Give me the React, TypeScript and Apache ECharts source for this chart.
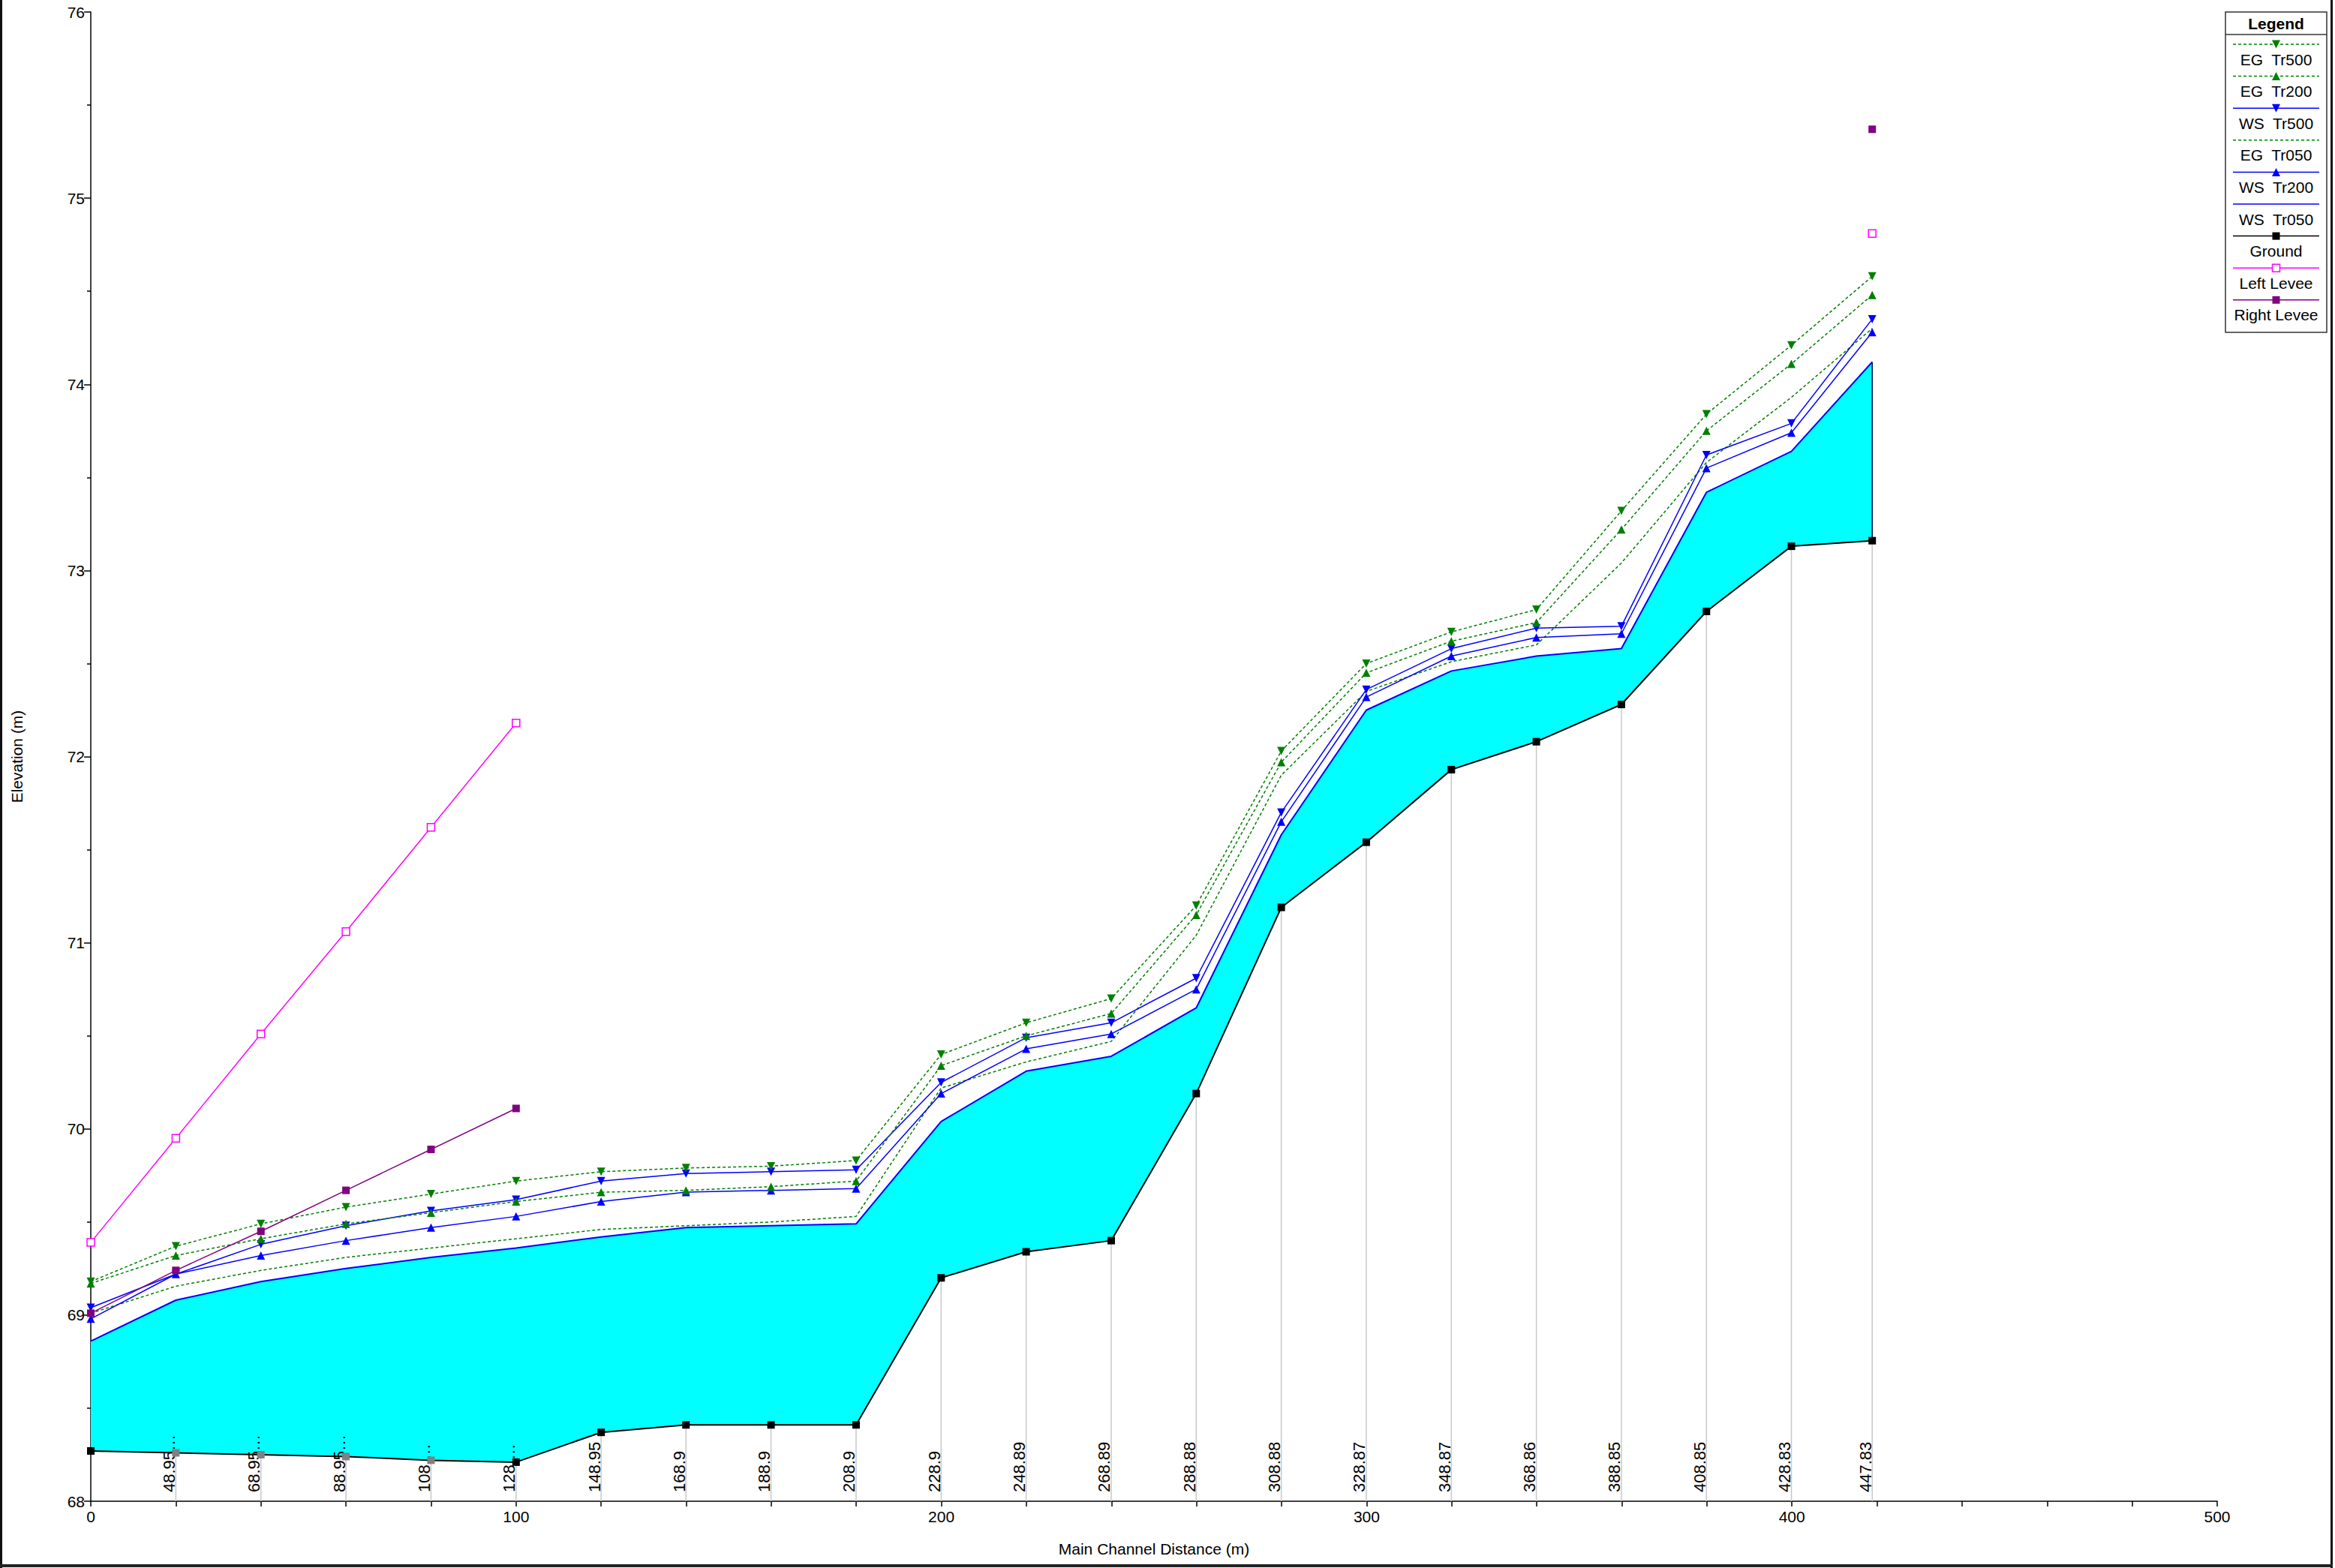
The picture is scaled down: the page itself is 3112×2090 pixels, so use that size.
import React, { useEffect, useRef } from 'react';
import * as echarts from 'echarts';

// Main channel distance (m) of each cross-section
const stations = [0, 20, 40, 60, 80, 100, 120, 139.95, 159.95, 179.95, 199.95, 219.94, 239.94, 259.93, 279.93, 299.92, 319.92, 339.91, 359.9, 379.9, 399.88, 418.88];
// River station labels
const rsLabels = ['', '48.95\u2026', '68.95\u2026', '88.95\u2026', '108.\u2026', '128.\u2026', '148.95', '168.9', '188.9', '208.9', '228.9', '248.89', '268.89', '288.88', '308.88', '328.87', '348.87', '368.86', '388.85', '408.85', '428.83', '447.83'];
const interpolated = [false, true, true, true, true, false, false, false, false, false, false, false, false, false, false, false, false, false, false, false, false, false];

const ground = [68.27, 68.26, 68.25, 68.24, 68.22, 68.21, 68.37, 68.41, 68.41, 68.41, 69.20, 69.34, 69.40, 70.19, 71.19, 71.54, 71.93, 72.08, 72.28, 72.78, 73.13, 73.16];
const wsTr050 = [68.86, 69.08, 69.18, 69.25, 69.31, 69.36, 69.42, 69.47, 69.48, 69.49, 70.04, 70.31, 70.39, 70.65, 71.58, 72.25, 72.46, 72.54, 72.58, 73.42, 73.64, 74.12];
const wsTr200 = [68.98, 69.22, 69.32, 69.40, 69.47, 69.53, 69.61, 69.66, 69.67, 69.68, 70.19, 70.43, 70.51, 70.75, 71.65, 72.32, 72.54, 72.64, 72.66, 73.55, 73.74, 74.28];
const wsTr500 = [69.04, 69.22, 69.38, 69.48, 69.56, 69.62, 69.72, 69.76, 69.77, 69.78, 70.25, 70.49, 70.57, 70.81, 71.70, 72.36, 72.58, 72.69, 72.70, 73.62, 73.79, 74.35];
const egTr050 = [69.01, 69.155, 69.24, 69.31, 69.36, 69.41, 69.46, 69.48, 69.50, 69.53, 70.22, 70.36, 70.47, 71.04, 71.90, 72.35, 72.51, 72.60, 73.04, 73.58, 73.93, 74.30];
const egTr200 = [69.17, 69.32, 69.41, 69.49, 69.55, 69.61, 69.66, 69.67, 69.69, 69.72, 70.34, 70.50, 70.62, 71.15, 71.97, 72.45, 72.62, 72.72, 73.22, 73.75, 74.11, 74.48];
const egTr500 = [69.18, 69.37, 69.49, 69.58, 69.65, 69.72, 69.77, 69.79, 69.80, 69.83, 70.40, 70.57, 70.70, 71.20, 72.03, 72.50, 72.67, 72.79, 73.32, 73.84, 74.21, 74.58];
const N = null;
const leftLevee = [69.39, 69.95, 70.51, 71.06, 71.62, 72.18, N, N, N, N, N, N, N, N, N, N, N, N, N, N, N, 74.81];
const rightLevee = [69.01, 69.24, 69.45, 69.67, 69.89, 70.11, N, N, N, N, N, N, N, N, N, N, N, N, N, N, N, 75.37];

const yMin = 68;
const yMax = 76;
const xMin = 0;
const xMax = 500;

const legendItems = [
  { name: 'EG  Tr500', color: '#008000', dash: true, marker: 'down' },
  { name: 'EG  Tr200', color: '#008000', dash: true, marker: 'up' },
  { name: 'WS  Tr500', color: '#0000ff', dash: false, marker: 'down' },
  { name: 'EG  Tr050', color: '#008000', dash: true, marker: 'none' },
  { name: 'WS  Tr200', color: '#0000ff', dash: false, marker: 'up' },
  { name: 'WS  Tr050', color: '#0000ff', dash: false, marker: 'none' },
  { name: 'Ground', color: '#000000', dash: false, marker: 'square' },
  { name: 'Left Levee', color: '#ff00ff', dash: false, marker: 'openSquare' },
  { name: 'Right Levee', color: '#800080', dash: false, marker: 'square' },
];

const FONT = "'Liberation Sans', Arial, sans-serif";

function pairs(vals: (number | null)[]) {
  return stations.map((x, i) => [x, vals[i]]);
}

function buildLegend() {
  const left = 2966, right = 3101, top = 16, bottom = 443;
  const cx = (left + right) / 2;
  const els: any[] = [
    { type: 'rect', shape: { x: left, y: top, width: right - left, height: bottom - top }, style: { fill: '#fff', stroke: '#333', lineWidth: 1.5 }, z: 100 },
    { type: 'line', shape: { x1: left, y1: 46, x2: right, y2: 46 }, style: { stroke: '#333', lineWidth: 1.5 }, z: 101 },
    { type: 'text', x: cx, y: 31, style: { text: 'Legend', font: `bold 21px ${FONT}`, fill: '#000', textAlign: 'center', textVerticalAlign: 'middle' }, z: 101 },
  ];
  legendItems.forEach((it, i) => {
    const ly = 59 + 42.6 * i;
    const ty = 79 + 42.6 * i;
    els.push({ type: 'line', shape: { x1: 2976, y1: ly, x2: 3091, y2: ly }, style: { stroke: it.color, lineWidth: 1.5, lineDash: it.dash ? [4, 3] : null }, z: 101 });
    const s = 5.5;
    if (it.marker === 'down') {
      els.push({ type: 'polygon', shape: { points: [[cx - s, ly - s], [cx + s, ly - s], [cx, ly + s]] }, style: { fill: it.color }, z: 102 });
    } else if (it.marker === 'up') {
      els.push({ type: 'polygon', shape: { points: [[cx - s, ly + s], [cx + s, ly + s], [cx, ly - s]] }, style: { fill: it.color }, z: 102 });
    } else if (it.marker === 'square') {
      els.push({ type: 'rect', shape: { x: cx - 5, y: ly - 5, width: 10, height: 10 }, style: { fill: it.color }, z: 102 });
    } else if (it.marker === 'openSquare') {
      els.push({ type: 'rect', shape: { x: cx - 5, y: ly - 5, width: 10, height: 10 }, style: { fill: '#fff', stroke: it.color, lineWidth: 1.5 }, z: 102 });
    }
    els.push({ type: 'text', x: cx, y: ty, style: { text: it.name, font: `21px ${FONT}`, fill: '#000', textAlign: 'center', textVerticalAlign: 'middle' }, z: 101 });
  });
  // outer frame
  els.push({ type: 'rect', shape: { x: 0, y: 0, width: 3, height: 2090 }, style: { fill: '#111' }, z: 100 });
  els.push({ type: 'rect', shape: { x: 3106, y: 0, width: 3, height: 2090 }, style: { fill: '#111' }, z: 100 });
  els.push({ type: 'rect', shape: { x: 0, y: 2085, width: 3109, height: 4 }, style: { fill: '#222' }, z: 100 });
  return els;
}

export default function App() {
  const ref = useRef<HTMLDivElement>(null);
  useEffect(() => {
    if (!ref.current) return;
    const chart = echarts.init(ref.current, null, { renderer: 'svg' });
    const triDown = { symbol: 'triangle', symbolRotate: 180 };
    const lineBase = { type: 'line', showAllSymbol: true, silent: true, connectNulls: false };
    const option: any = {
      animation: false,
      backgroundColor: '#ffffff',
      textStyle: { fontFamily: FONT },
      grid: { left: 121, right: 157, top: 16, bottom: 89, containLabel: false },
      xAxis: {
        type: 'value', min: xMin, max: xMax, interval: 100,
        name: 'Main Channel Distance (m)', nameLocation: 'middle', nameGap: 53,
        nameTextStyle: { color: '#000', fontSize: 21, fontFamily: FONT },
        axisLine: { show: true, lineStyle: { color: '#000', width: 1.5 } },
        axisTick: { show: true, length: 7, lineStyle: { color: '#000', width: 1.5 } },
        minorTick: { show: true, splitNumber: 5, length: 7, lineStyle: { color: '#000', width: 1.5 } },
        axisLabel: { color: '#000', fontSize: 21, margin: 10, fontFamily: FONT },
        splitLine: { show: false },
      },
      yAxis: {
        type: 'value', min: yMin, max: yMax, interval: 1,
        name: 'Elevation (m)', nameLocation: 'middle', nameGap: 88,
        nameTextStyle: { color: '#000', fontSize: 21, fontFamily: FONT },
        axisLine: { show: true, lineStyle: { color: '#000', width: 1.5 } },
        axisTick: { show: true, length: 9, lineStyle: { color: '#000', width: 1.5 } },
        minorTick: { show: true, splitNumber: 2, length: 5, lineStyle: { color: '#000', width: 1.5 } },
        axisLabel: { color: '#000', fontSize: 21, margin: 8, fontFamily: FONT },
        splitLine: { show: false },
      },
      graphic: buildLegend(),
      series: [
        {
          type: 'custom', name: 'water', silent: true, z: 1, clip: true,
          data: [[stations[0], ground[0]]],
          renderItem: (params: any, api: any) => {
            const top = stations.map((x, i) => api.coord([x, wsTr050[i]]));
            const bot = stations.map((x, i) => api.coord([x, ground[i]])).reverse();
            const last = stations.length - 1;
            const a = api.coord([stations[last], wsTr050[last]]);
            const b = api.coord([stations[last], ground[last]]);
            return {
              type: 'group',
              children: [
                { type: 'polygon', shape: { points: top.concat(bot) }, style: { fill: '#00ffff' } },
                { type: 'line', shape: { x1: a[0], y1: a[1], x2: b[0], y2: b[1] }, style: { stroke: '#000044', lineWidth: 1.5 } },
              ],
            };
          },
        },
        {
          type: 'custom', name: 'stations', silent: true, z: 2, clip: false,
          data: stations.map((x, i) => [x, ground[i], i]),
          renderItem: (params: any, api: any) => {
            const x = api.value(0);
            const g = api.value(1);
            const idx = api.value(2);
            const p0 = api.coord([x, yMin]);
            const p1 = api.coord([x, g]);
            const children: any[] = [];
            if (idx > 0) {
              children.push({ type: 'line', shape: { x1: p0[0], y1: p0[1], x2: p1[0], y2: p1[1] }, style: { stroke: '#c8c8c8', lineWidth: 1.5 } });
            }
            const label = rsLabels[idx];
            if (label) {
              children.push({
                type: 'text', x: p0[0] + 2, y: p0[1] - 12, rotation: Math.PI / 2,
                style: { text: label, font: `22px ${FONT}`, fill: '#000', textAlign: 'left', textVerticalAlign: 'bottom' },
              });
            }
            return { type: 'group', children };
          },
        },
        {
          ...lineBase, name: 'WS  Tr050', data: pairs(wsTr050), symbol: 'none',
          lineStyle: { color: '#0000ff', width: 2 }, z: 3,
        },
        {
          ...lineBase, name: 'EG  Tr050', data: pairs(egTr050), symbol: 'none',
          lineStyle: { color: '#008000', width: 1.5, type: [4, 3] }, z: 3,
        },
        {
          ...lineBase, name: 'WS  Tr200', data: pairs(wsTr200), symbol: 'triangle', symbolSize: 11,
          itemStyle: { color: '#0000ff' }, lineStyle: { color: '#0000ff', width: 1.5 }, z: 4,
        },
        {
          ...lineBase, name: 'WS  Tr500', data: pairs(wsTr500), ...triDown, symbolSize: 11,
          itemStyle: { color: '#0000ff' }, lineStyle: { color: '#0000ff', width: 1.5 }, z: 4,
        },
        {
          ...lineBase, name: 'EG  Tr200', data: pairs(egTr200), symbol: 'triangle', symbolSize: 11,
          itemStyle: { color: '#008000' }, lineStyle: { color: '#008000', width: 1.5, type: [4, 3] }, z: 5,
        },
        {
          ...lineBase, name: 'EG  Tr500', data: pairs(egTr500), ...triDown, symbolSize: 11,
          itemStyle: { color: '#008000' }, lineStyle: { color: '#008000', width: 1.5, type: [4, 3] }, z: 5,
        },
        {
          ...lineBase, name: 'Ground',
          data: stations.map((x, i) => ({ value: [x, ground[i]], itemStyle: { color: interpolated[i] ? '#808080' : '#000000' } })),
          symbol: 'rect', symbolSize: 10,
          lineStyle: { color: '#000', width: 2 }, z: 6,
        },
        {
          ...lineBase, name: 'Left Levee', data: pairs(leftLevee), symbol: 'rect', symbolSize: 10,
          itemStyle: { color: '#ffffff', borderColor: '#ff00ff', borderWidth: 1.5 },
          lineStyle: { color: '#ff00ff', width: 1.5 }, z: 6,
        },
        {
          ...lineBase, name: 'Right Levee', data: pairs(rightLevee), symbol: 'rect', symbolSize: 10,
          itemStyle: { color: '#800080' }, lineStyle: { color: '#800080', width: 1.5 }, z: 6,
        },
      ],
    };
    chart.setOption(option);
    return () => chart.dispose();
  }, []);
  return (
    <div
      ref={ref}
      style={{ position: 'absolute', left: 0, top: 0, width: 3112, height: 2090, background: '#fff' }}
    />
  );
}
